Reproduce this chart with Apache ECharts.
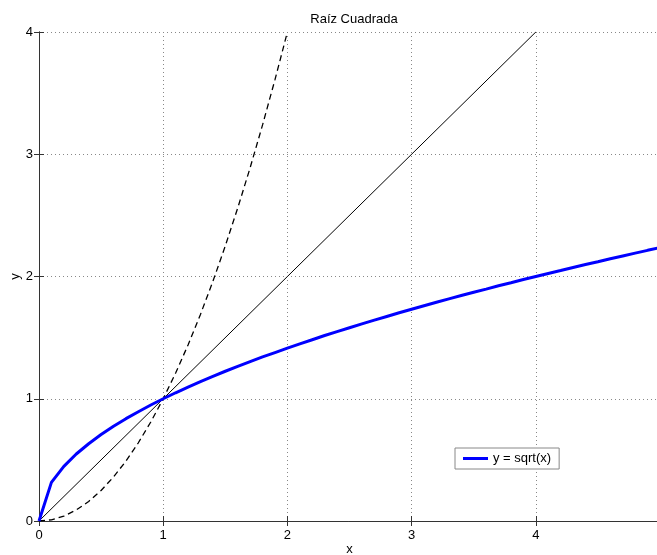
<!DOCTYPE html>
<html><head><meta charset="utf-8">
<script src="https://cdn.jsdelivr.net/npm/echarts@6/dist/echarts.min.js"></script>
<style>html,body{margin:0;padding:0;background:#fff}#c{width:657px;height:555px}</style>
</head><body><div id="c"></div>
<script>
var xs = [0,0.1,0.2,0.3,0.4,0.5,0.6,0.7,0.8,0.9,1,1.1,1.2,1.3,1.4,1.5,1.6,1.7,1.8,1.9,2,2.1,2.2,2.3,2.4,2.5,2.6,2.7,2.8,2.9,3,3.1,3.2,3.3,3.4,3.5,3.6,3.7,3.8,3.9,4,4.1,4.2,4.3,4.4,4.5,4.6,4.7,4.8,4.9,5];
var sqrtY = [0,0.316,0.447,0.548,0.632,0.707,0.775,0.837,0.894,0.949,1,1.049,1.095,1.140,1.183,1.225,1.265,1.304,1.342,1.378,1.414,1.449,1.483,1.517,1.549,1.581,1.612,1.643,1.673,1.703,1.732,1.761,1.789,1.817,1.844,1.871,1.897,1.924,1.949,1.975,2,2.025,2.049,2.074,2.098,2.121,2.145,2.168,2.191,2.214,2.236];
var identX = [0,1,2,3,4];
var identY = [0,1,2,3,4];
var sqX = [0,0.1,0.2,0.3,0.4,0.5,0.6,0.7,0.8,0.9,1,1.1,1.2,1.3,1.4,1.5,1.6,1.7,1.8,1.9,2];
var sqY = [0,0.01,0.04,0.09,0.16,0.25,0.36,0.49,0.64,0.81,1,1.21,1.44,1.69,1.96,2.25,2.56,2.89,3.24,3.61,4];
var xTicks = [0,1,2,3,4,5];
var yTicks = [0,1,2,3,4];
var titleText = 'Raíz Cuadrada';
var legendName = 'y = sqrt(x)';

function pairs(a,b){return a.map(function(v,i){return [v,b[i]];});}
var font = 'Liberation Sans, Arial, sans-serif';
var chart = echarts.init(document.getElementById('c'), null, {renderer:'canvas'});
var axisLine = {show:true, lineStyle:{color:'#333', width:1}};
var tick = {show:true, inside:true, length:5, lineStyle:{color:'#333'}};
var split = {show:true, lineStyle:{color:'#888', type:[1,3], width:1}};
chart.setOption({
  animation:false,
  backgroundColor:'#fff',
  title:{text:titleText, left:349, top:8, textAlign:'center',
    textStyle:{fontFamily:font, fontSize:13, fontWeight:'normal', color:'#000'}},
  grid:{left:39, top:32, width:621, height:489, containLabel:false, outerBoundsMode:'none'},
  legend:{data:[legendName], left:455, top:448, orient:'vertical', icon:'rect',
    backgroundColor:'#fff', borderColor:'#888', borderWidth:1, padding:[4,8,4,8],
    itemWidth:25, itemHeight:3, itemGap:4,
    textStyle:{fontFamily:font, fontSize:13, color:'#000'}},
  xAxis:[{type:'value', min:0, max:5, interval:1, position:'bottom',
      name:'x', nameLocation:'middle', nameGap:22, nameMoveOverlap:false,
      nameTextStyle:{fontFamily:font, fontSize:13, color:'#000'},
      axisLine:axisLine, axisTick:tick, splitLine:split,
      axisLabel:{fontFamily:font, fontSize:13, color:'#000', margin:8,
        formatter:function(v){return xTicks.indexOf(v)>=0?String(v):'';}}},
    {type:'value', min:0, max:5, interval:1, position:'top',
      axisLine:axisLine, axisTick:tick, splitLine:{show:false}, axisLabel:{show:false}}],
  yAxis:[{type:'value', min:0, max:4, interval:1, position:'left',
      name:'y', nameLocation:'middle', nameGap:17, nameRotate:90, nameMoveOverlap:false,
      nameTextStyle:{fontFamily:font, fontSize:13, color:'#000'},
      axisLine:axisLine, axisTick:tick, splitLine:split,
      axisLabel:{fontFamily:font, fontSize:13, color:'#000', margin:6,
        formatter:function(v){return yTicks.indexOf(v)>=0?String(v):'';}}},
    {type:'value', min:0, max:4, interval:1, position:'right',
      axisLine:axisLine, axisTick:tick, splitLine:{show:false}, axisLabel:{show:false}}],
  series:[
    {name:'x', type:'line', data:pairs(identX,identY), symbol:'none', showSymbol:false,
      lineStyle:{color:'#000', width:1}, z:2, clip:true, silent:true},
    {name:'x2', type:'line', data:pairs(sqX,sqY), symbol:'none', showSymbol:false,
      lineStyle:{color:'#000', width:1.3, type:[6,4]}, z:2, clip:true, silent:true},
    {name:legendName, type:'line', data:pairs(xs,sqrtY), symbol:'none', showSymbol:false,
      itemStyle:{color:'#0000ff'}, lineStyle:{color:'#0000ff', width:3}, z:3, clip:true}
  ]
});
</script></body></html>
